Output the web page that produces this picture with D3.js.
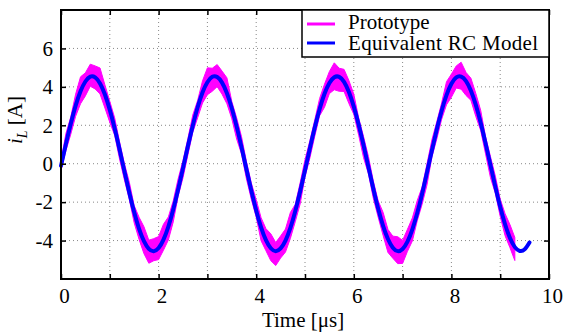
<!DOCTYPE html>
<html lang="en">
<head>
    <meta charset="utf-8">
    <title>Inductor current</title>
    <script src="https://d3js.org/d3.v7.min.js"></script>
    <style>
      body { margin: 0; background: #fff; }
      text { font-family: "Liberation Serif", "Times New Roman", serif; }
    </style>
</head>
<body>
<div id="dataviz"></div>
<script>
// time base for the two traces (us)
var modelTime = d3.range(0, 97).map(function(i) { return +(i / 10).toFixed(1); });
var protoTime = d3.range(0, 94).map(function(i) { return +(i / 10).toFixed(1); });

// Equivalent RC model, i_L in A (every 0.1 us)
var modelCurrent = [
  -0.11, 1.02, 2.08, 3.02, 3.77, 4.28, 4.53, 4.49, 4.18, 3.60,
   2.80, 1.83, 0.74, -0.40, -1.51, -2.53, -3.39, -4.03, -4.43, -4.55,
  -4.39, -3.95, -3.27, -2.38, -1.34, -0.23, 0.91, 1.98, 2.94, 3.71,
   4.24, 4.52, 4.51, 4.22, 3.67, 2.89, 1.93, 0.85, -0.29, -1.40,
  -2.43, -3.31, -3.98, -4.40, -4.55, -4.41, -4.00, -3.34, -2.47, -1.45,
  -0.34, 0.80, 1.88, 2.85, 3.64, 4.20, 4.50, 4.52, 4.26, 3.73,
   2.97, 2.03, 0.96, -0.18, -1.30, -2.34, -3.23, -3.92, -4.37, -4.55,
  -4.44, -4.06, -3.42, -2.57, -1.56, -0.45, 0.69, 1.78, 2.76, 3.57,
   4.16, 4.49, 4.53, 4.30, 3.80, 3.06, 2.13, 1.06, -0.07, -1.19,
  -2.24, -3.15, -3.87, -4.34, -4.54, -4.46, -4.10
];

// Prototype (noisy measurement): upper and lower edge of the trace, A
var protoUpper = [
   0.15, 1.57, 2.43, 3.62, 4.52, 4.73, 5.18, 5.09, 4.98, 4.10,
   3.25, 2.38, 1.14, 0.00, -0.96, -2.18, -2.79, -3.28, -3.98, -3.90,
  -3.79, -3.15, -2.77, -1.93, -0.79, 0.17, 1.31, 2.53, 3.29, 4.31,
   4.99, 4.97, 5.16, 4.82, 4.47, 3.24, 2.38, 1.40, 0.11, -1.00,
  -1.88, -2.81, -3.38, -3.65, -4.10, -3.76, -3.40, -2.54, -2.12, -1.00,
   0.21, 1.20, 2.28, 3.40, 4.14, 4.80, 5.25, 4.97, 4.91, 4.33,
   3.62, 2.38, 1.41, 0.37, -0.90, -1.94, -2.53, -3.42, -3.77, -3.80,
  -3.99, -3.41, -2.82, -1.92, -1.21, 0.00, 1.24, 2.18, 3.16, 4.27,
   4.66, 5.09, 5.28, 4.75, 4.45, 3.66, 2.78, 1.41, 0.38, -0.64,
  -1.84, -2.60, -3.17, -3.84
];
var protoLower = [
  -0.35, 0.67, 1.53, 2.47, 3.12, 3.53, 4.03, 3.89, 3.63, 2.90,
   2.15, 1.48, 0.24, -0.85, -1.86, -3.08, -3.94, -4.68, -5.18, -5.05,
  -4.99, -4.50, -3.97, -3.03, -1.69, -0.73, 0.46, 1.63, 2.39, 3.16,
   3.59, 3.77, 4.01, 3.62, 3.12, 2.34, 1.28, 0.50, -0.79, -1.85,
  -2.78, -4.01, -4.53, -5.05, -5.30, -4.91, -4.60, -3.89, -3.02, -2.10,
  -0.69, 0.30, 1.43, 2.50, 2.94, 3.65, 3.85, 3.77, 3.76, 3.13,
   2.57, 1.48, 0.31, -0.53, -1.80, -2.79, -3.73, -4.62, -4.92, -5.20,
  -5.19, -4.56, -4.02, -2.97, -2.11, -1.10, 0.34, 1.28, 2.31, 3.07,
   3.46, 3.94, 3.88, 3.55, 3.30, 2.46, 1.73, 0.51, -0.72, -1.54,
  -2.74, -3.75, -4.37, -5.04
];

var xTicks = [0, 1, 2, 3, 4, 5, 6, 7, 8, 9, 10];
var yTicks = [-4, -2, 0, 2, 4, 6];
var seriesNames = ["Prototype", "Equivalent RC Model"];
var seriesColors = ["#ff00ff", "#0000ff"];

var margin = {top: 10, right: 19, bottom: 54, left: 61},
    width = 568 - margin.left - margin.right,
    height = 333 - margin.top - margin.bottom;

var svg = d3.select("#dataviz")
    .append("svg")
    .attr("width", width + margin.left + margin.right)
    .attr("height", height + margin.top + margin.bottom)
    .append("g")
    .attr("transform", "translate(" + margin.left + "," + margin.top + ")");

var x = d3.scaleLinear().domain([0, 10]).range([0, width]);
var y = d3.scaleLinear().domain([-6, 8]).range([height, 0]);

// dotted grid
svg.append("g").selectAll("line")
    .data(xTicks.slice(1, -1))
    .enter().append("line")
      .attr("x1", function(d) { return x(d); })
      .attr("x2", function(d) { return x(d); })
      .attr("y1", 0).attr("y2", height)
      .attr("stroke", "#888").attr("stroke-dasharray", "1,3");
svg.append("g").selectAll("line")
    .data(yTicks)
    .enter().append("line")
      .attr("y1", function(d) { return y(d); })
      .attr("y2", function(d) { return y(d); })
      .attr("x1", 0).attr("x2", width)
      .attr("stroke", "#888").attr("stroke-dasharray", "1,3");

// prototype band
var protoData = protoTime.map(function(t, i) { return {t: t, hi: protoUpper[i], lo: protoLower[i]}; });
svg.append("path")
    .datum(protoData)
    .attr("fill", seriesColors[0])
    .attr("stroke", seriesColors[0])
    .attr("stroke-width", 1)
    .attr("d", d3.area()
      .x(function(d) { return x(d.t); })
      .y0(function(d) { return y(d.lo); })
      .y1(function(d) { return y(d.hi); }));

// RC model line
var modelData = modelTime.map(function(t, i) { return {t: t, v: modelCurrent[i]}; });
svg.append("path")
    .datum(modelData)
    .attr("fill", "none")
    .attr("stroke", seriesColors[1])
    .attr("stroke-width", 4)
    .attr("stroke-linecap", "round")
    .attr("d", d3.line()
      .curve(d3.curveNatural)
      .x(function(d) { return x(d.t); })
      .y(function(d) { return y(d.v); }));

// axes with inward ticks
var xAxis = svg.append("g")
    .attr("transform", "translate(0," + height + ")")
    .call(d3.axisBottom(x).tickValues(xTicks).tickSizeInner(-5).tickSizeOuter(0).tickPadding(9)
      .tickFormat(function(d) { return d % 2 === 0 ? d : ""; }));
var yAxis = svg.append("g")
    .call(d3.axisLeft(y).tickValues(yTicks).tickSizeInner(-5).tickSizeOuter(0).tickPadding(8)
      .tickFormat(function(d) { return String(d); }));
svg.append("g")
    .call(d3.axisTop(x).tickValues(xTicks).tickSizeInner(-5).tickSizeOuter(0).tickFormat(""));
svg.append("g")
    .attr("transform", "translate(" + width + ",0)")
    .call(d3.axisRight(y).tickValues(yTicks).tickSizeInner(-5).tickSizeOuter(0).tickFormat(""));

svg.selectAll(".domain").remove();
svg.selectAll(".tick line").attr("stroke", "#000").attr("stroke-width", 1.5);
svg.selectAll(".tick text")
    .attr("font-family", "'Liberation Serif', 'Times New Roman', serif")
    .attr("font-size", 21)
    .attr("fill", "#000");
xAxis.selectAll(".tick text").attr("dx", 3);

// frame
svg.append("rect")
    .attr("width", width).attr("height", height)
    .attr("fill", "none").attr("stroke", "#000").attr("stroke-width", 2);

// axis titles
svg.append("text")
    .attr("x", width / 2 - 2)
    .attr("y", height + 48)
    .attr("text-anchor", "middle")
    .attr("font-size", 21)
    .text("Time [\u03bcs]");

var ylab = svg.append("text")
    .attr("transform", "translate(-39," + (120 - margin.top) + ") rotate(-90)")
    .attr("text-anchor", "middle")
    .attr("font-size", 21);
ylab.append("tspan").attr("font-style", "italic").text("i");
ylab.append("tspan").attr("font-style", "italic").attr("font-size", 14).attr("dy", 5).text("L");
ylab.append("tspan").attr("dy", -5).text(" [A]");

// legend
var legend = svg.append("g").attr("transform", "translate(" + (302 - margin.left) + ",0)");
legend.append("rect")
    .attr("width", width - (302 - margin.left)).attr("height", 47)
    .attr("fill", "#fff").attr("stroke", "#000").attr("stroke-width", 1.5);
seriesNames.forEach(function(name, i) {
  legend.append("line")
      .attr("x1", 5).attr("x2", 33)
      .attr("y1", 14 + i * 19).attr("y2", 14 + i * 19)
      .attr("stroke", seriesColors[i]).attr("stroke-width", 3);
  legend.append("text")
      .attr("x", 46).attr("y", 19 + i * 21)
      .attr("font-size", 21)
      .attr("textLength", i === 1 ? 190 : null)
      .text(name);
});
</script>
</body>
</html>
